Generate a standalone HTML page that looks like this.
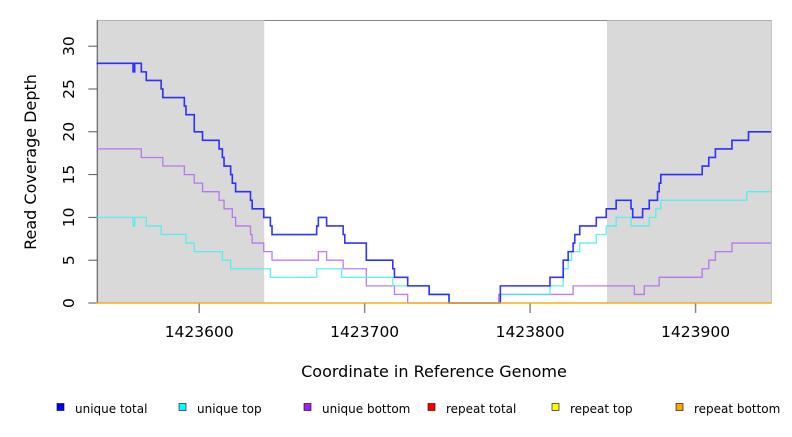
<!DOCTYPE html>
<html><head><meta charset="utf-8"><style>
body{margin:0;background:#fff;width:792px;height:432px;overflow:hidden;font-family:"Liberation Sans","DejaVu Sans",sans-serif}
</style></head><body>
<svg id="chart" width="792" height="432" viewBox="0 0 792 432" xmlns="http://www.w3.org/2000/svg" font-family="DejaVu Sans, Liberation Sans, sans-serif"></svg>
<script>
const xDomain=[1423538.4,1423945.6];
const yDomain=[0,33];
const xTicks=[1423600,1423700,1423800,1423900];
const yTicks=[0,5,10,15,20,25,30];
const grayRegions=[[1423538.4,1423639.3],[1423846.5,1423945.6]];
const totalX=[1423538,1423560,1423561,1423565,1423568,1423577,1423578,1423591,1423592,1423597,1423602,1423612,1423614,1423615,1423619,1423620,1423622,1423631,1423632,1423639,1423643,1423644,1423671,1423672,1423677,1423687,1423688,1423701,1423717,1423718,1423726,1423739,1423751,1423782,1423812,1423820,1423823,1423826,1423827,1423830,1423840,1423846,1423852,1423861,1423862,1423868,1423872,1423877,1423878,1423879,1423904,1423908,1423912,1423922,1423932];
const totalY=[28,27,28,27,26,25,24,23,22,20,19,18,17,16,15,14,13,12,11,10,9,8,9,10,9,8,7,5,4,3,2,1,0,2,3,5,6,7,8,9,10,11,12,11,10,11,12,13,14,15,16,17,18,19,20];
const topX=[1423538,1423560,1423561,1423568,1423577,1423592,1423597,1423614,1423619,1423643,1423671,1423686,1423717,1423739,1423751,1423782,1423812,1423820,1423823,1423825,1423830,1423840,1423846,1423852,1423861,1423872,1423876,1423879,1423931];
const topY=[10,9,10,9,8,7,6,5,4,3,4,3,2,1,0,1,2,4,5,6,7,8,9,10,9,10,11,12,13];
const botX=[1423538,1423565,1423578,1423591,1423597,1423602,1423612,1423615,1423620,1423622,1423631,1423632,1423639,1423644,1423672,1423677,1423687,1423701,1423718,1423726,1423781,1423826,1423863,1423869,1423878,1423904,1423908,1423912,1423922];
const botY=[18,17,16,15,14,13,12,11,10,9,8,7,6,5,6,5,4,2,1,0,1,2,1,2,3,4,5,6,7];
const repeatX=[1423538];
const repeatTotalY=[0];
const repeatTopY=[0];
const repeatBotY=[0];
const legendLabels=["unique total","unique top","unique bottom","repeat total","repeat top","repeat bottom"];
const legendColors=["#0000ff","#00ffff","#a020f0","#ff0000","#ffff00","#ffa500"];

const L=97.3,R=771,T=20.5,B=303;
const NS="http://www.w3.org/2000/svg";
const svg=document.getElementById('chart');
function sx(v){return L+(v-xDomain[0])/(xDomain[1]-xDomain[0])*(R-L);}
function sy(v){return B-(v-yDomain[0])/(yDomain[1]-yDomain[0])*(B-T);}
function mk(tag,attrs){const e=document.createElementNS(NS,tag);for(const k in attrs)e.setAttribute(k,attrs[k]);svg.appendChild(e);return e;}

let bg=mk('rect',{x:L,y:T,width:R-L,height:B-T,fill:'#fff',stroke:'#888','stroke-width':1});


grayRegions.forEach((g,i)=>{
  const r=mk('rect',{x:sx(g[0]),y:T,width:sx(g[1])-sx(g[0]),height:B-T,fill:'#d9d9d9'});
  
  
});
let ax=mk('line',{x1:L,y1:T,x2:L,y2:B,stroke:'#555','stroke-width':1});



yTicks.forEach(t=>{
  const y=sy(t);
  const tk=mk('line',{x1:L-9,y1:y,x2:L,y2:y,stroke:'#555','stroke-width':1});
  
  
  const tx=mk('text',{x:0,y:0,'font-size':15.5,'text-anchor':'middle',transform:`translate(74,${y}) rotate(-90)`,fill:'#000'});
  tx.textContent=t;
  
  
});
xTicks.forEach(t=>{
  const x=sx(t);
  const tk=mk('line',{x1:x,y1:B,x2:x,y2:B+10,stroke:'#888','stroke-width':1.5});
  
  
  const tx=mk('text',{x:x,y:337,'font-size':15.5,'text-anchor':'middle',fill:'#000'});
  tx.textContent=t;
  
  
});

function stepPath(xs,ys){
  let d=`M${sx(xs[0])},${sy(ys[0])}`;
  for(let i=1;i<xs.length;i++){d+=`H${sx(xs[i])}V${sy(ys[i])}`;}
  d+=`H${sx(xDomain[1])}`;
  return d;
}
function series(xs,ys,color,w,name){
  const p=mk('path',{d:stepPath(xs,ys),fill:'none',stroke:color,'stroke-width':w,opacity:0.85});
  
  
}
series(botX,botY,'#b066ee',1.3,'unique-bottom-line');
series(topX,topY,'#44eeee',1.3,'unique-top-line');
series(totalX,totalY,'#1010ff',1.6,'unique-total-line');
series(repeatX,repeatBotY,'#ffa500',1.3,'repeat-bottom-line');
series(repeatX,repeatTopY,'#ffff00',0.1,'repeat-top-line');
series(repeatX,repeatTotalY,'#ffa500',1.3,'repeat-total-line');

let yl=mk('text',{x:0,y:0,'font-size':16,'text-anchor':'middle',transform:`translate(36,162) rotate(-90)`,fill:'#000'});
yl.textContent='Read Coverage Depth';


let xl=mk('text',{x:434,y:377,'font-size':16,'text-anchor':'middle',fill:'#000'});
xl.textContent='Coordinate in Reference Genome';



const legX=[57,179,304,428,552,676];
legendLabels.forEach((lab,i)=>{
  const r=mk('rect',{x:legX[i],y:403.5,width:7,height:7,fill:legendColors[i],stroke:'#000','stroke-width':0.6});
  
  
  const t=mk('text',{x:legX[i]+18,y:413,'font-size':12,fill:'#000'});
  t.textContent=lab;
  
  
});
</script>
</body></html>
